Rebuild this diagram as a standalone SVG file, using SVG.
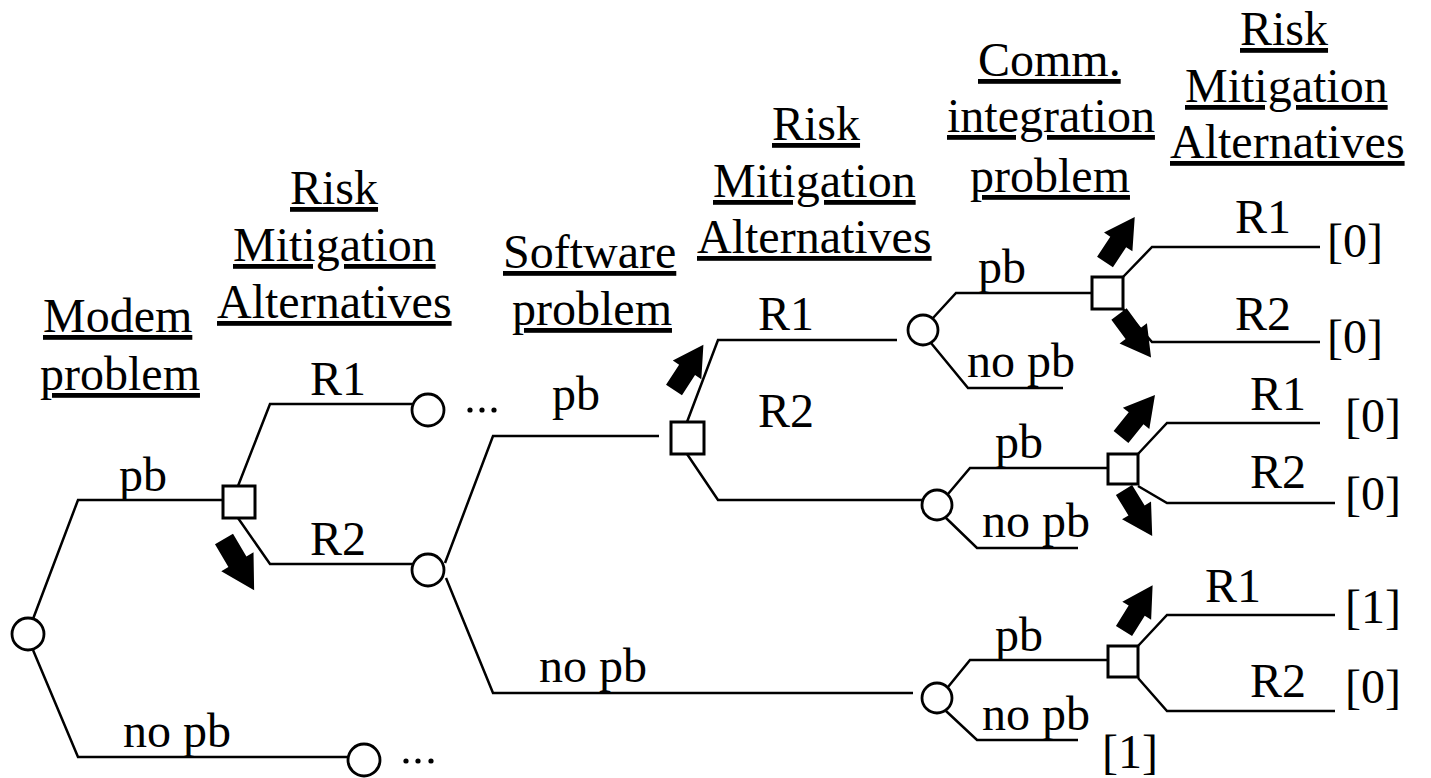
<svg xmlns="http://www.w3.org/2000/svg" width="1431" height="778" viewBox="0 0 1431 778">
<style>
  .t { font-family: 'Liberation Serif', 'Times New Roman', Times, serif; font-size: 48px; fill: #000; white-space: pre; }
  .hd { text-decoration: underline; }
  .ln { fill: none; stroke: #000; stroke-width: 2.5; stroke-linejoin: miter; }
  .ch { fill: #fff; stroke: #000; stroke-width: 2.8; }
  .dc { fill: #fff; stroke: #000; stroke-width: 3; }
  .ar { fill: #000; }
  .dot { fill: #000; }
</style>
<defs>
  <path id="arr" d="M0,-9.5 L24,-9.5 L24,-17 L54,0 L24,17 L24,9.5 L0,9.5 Z"/>
</defs>
<rect width="1431" height="778" fill="#fff"/>

<g id="headers" class="t" font-family="Liberation Serif, serif">
  <text class="hd" x="43" y="332">Modem </text>
  <text class="hd" x="40" y="390">problem</text>
  <text class="hd" x="290" y="204">Risk </text>
  <text class="hd" x="233" y="261">Mitigation </text>
  <text class="hd" x="217" y="318">Alternatives </text>
  <text class="hd" x="503" y="268">Software </text>
  <text class="hd" x="512" y="325">problem</text>
  <text class="hd" x="772" y="140">Risk </text>
  <text class="hd" x="713" y="197">Mitigation </text>
  <text class="hd" x="697" y="253">Alternatives </text>
  <text class="hd" x="978" y="76">Comm. </text>
  <text class="hd" x="947" y="132">integration </text>
  <text class="hd" x="970" y="192">problem</text>
  <text class="hd" x="1240" y="45">Risk </text>
  <text class="hd" x="1185" y="102">Mitigation </text>
  <text class="hd" x="1170" y="158">Alternatives </text>
</g>

<g id="connectors">
  <polyline class="ln" points="33,619 78,500 223,500"/>
  <polyline class="ln" points="33,650 78,757 348,757"/>
  <polyline class="ln" points="238,486 270,404 412,404"/>
  <polyline class="ln" points="238,518 270,564 412,564"/>
  <polyline class="ln" points="445,563 493,436 659,436"/>
  <polyline class="ln" points="446,578 493,693 913,693"/>
  <polyline class="ln" points="687,422 718,340 897,340"/>
  <polyline class="ln" points="687,454 718,500 923,500"/>
  <polyline class="ln" points="933,318 956,293 1092,293"/>
  <polyline class="ln" points="931,343 968,388 1063,388"/>
  <polyline class="ln" points="1123,277 1152,247 1320,247"/>
  <polyline class="ln" points="1123,309 1152,342 1320,342"/>
  <polyline class="ln" points="948,494 970,468 1108,468"/>
  <polyline class="ln" points="946,518 977,548 1078,548"/>
  <polyline class="ln" points="1138,454 1167,423 1320,423"/>
  <polyline class="ln" points="1138,486 1167,503 1335,503"/>
  <polyline class="ln" points="948,687 970,660 1108,660"/>
  <polyline class="ln" points="946,711 977,740 1078,740"/>
  <polyline class="ln" points="1138,646 1167,615 1335,615"/>
  <polyline class="ln" points="1138,678 1167,711 1335,711"/>
</g>

<g id="branch-labels" class="t" font-family="Liberation Serif, serif">
  <text x="119" y="491">pb</text>
  <text x="123" y="747">no pb</text>
  <text x="310" y="395">R1</text>
  <text x="310" y="555">R2</text>
  <text x="552" y="410">pb</text>
  <text x="539" y="682">no pb</text>
  <text x="758" y="330">R1</text>
  <text x="758" y="427">R2</text>
  <text x="978" y="283">pb</text>
  <text x="967" y="377">no pb</text>
  <text x="1235" y="233">R1</text>
  <text x="1235" y="330">R2</text>
  <text x="1327" y="257">[0]</text>
  <text x="1327" y="353">[0]</text>
  <text x="995" y="458">pb</text>
  <text x="982" y="537">no pb</text>
  <text x="1250" y="410">R1</text>
  <text x="1250" y="488">R2</text>
  <text x="1345" y="432">[0]</text>
  <text x="1345" y="510">[0]</text>
  <text x="995" y="651">pb</text>
  <text x="982" y="730">no pb</text>
  <text x="1205" y="602">R1</text>
  <text x="1250" y="697">R2</text>
  <text x="1345" y="623">[1]</text>
  <text x="1345" y="703">[0]</text>
  <text x="1102" y="768">[1]</text>
</g>

<g id="arrows">
  <use href="#arr" class="ar" transform="translate(224,539) rotate(59.5) scale(1.1)"/>
  <use href="#arr" class="ar" transform="translate(674,390) rotate(-57)"/>
  <use href="#arr" class="ar" transform="translate(1105,262) rotate(-56.6)"/>
  <use href="#arr" class="ar" transform="translate(1119,314) rotate(53.6)"/>
  <use href="#arr" class="ar" transform="translate(1121,437) rotate(-51)"/>
  <use href="#arr" class="ar" transform="translate(1124,490) rotate(58.5)"/>
  <use href="#arr" class="ar" transform="translate(1124,631) rotate(-58)"/>
</g>

<g id="n-modem"><circle class="ch" cx="28" cy="634" r="16"/></g>
<g id="n-nopb-end"><circle class="ch" cx="364" cy="760" r="16"/>
  <circle class="dot" cx="406" cy="761" r="2.6"/><circle class="dot" cx="418" cy="761" r="2.6"/><circle class="dot" cx="431" cy="761" r="2.6"/></g>
<g id="n-rma1"><rect class="dc" x="223" y="486" width="32" height="32"/></g>
<g id="n-r1-end"><circle class="ch" cx="428" cy="410" r="16"/>
  <circle class="dot" cx="470" cy="410" r="2.6"/><circle class="dot" cx="482" cy="410" r="2.6"/><circle class="dot" cx="494" cy="410" r="2.6"/></g>
<g id="n-software"><circle class="ch" cx="428" cy="570" r="16"/></g>
<g id="n-rma2"><rect class="dc" x="671" y="422" width="33" height="32"/></g>
<g id="n-comm1"><circle class="ch" cx="923" cy="330" r="15"/></g>
<g id="n-comm2"><circle class="ch" cx="937" cy="505" r="15"/></g>
<g id="n-comm3"><circle class="ch" cx="937" cy="698" r="15"/></g>
<g id="n-rma3"><rect class="dc" x="1092" y="277" width="31" height="32"/></g>
<g id="n-rma4"><rect class="dc" x="1108" y="454" width="30" height="30"/></g>
<g id="n-rma5"><rect class="dc" x="1108" y="646" width="30" height="31"/></g>
</svg>
